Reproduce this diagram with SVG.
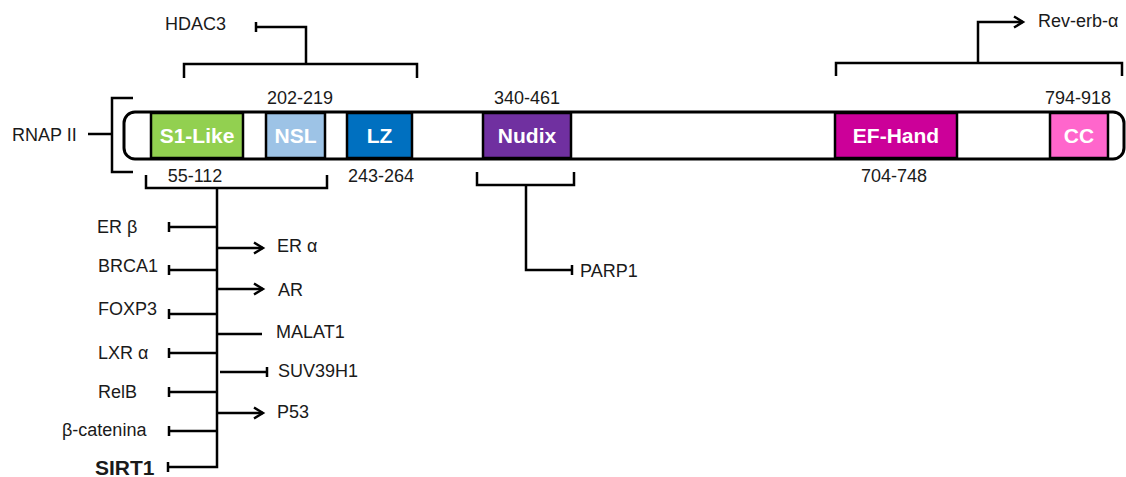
<svg xmlns="http://www.w3.org/2000/svg" width="1126" height="477" viewBox="0 0 1126 477">
<defs>
<style>
.t{font-family:"Liberation Sans",Arial,sans-serif;font-size:18px;fill:#1a1a1a}
.b{font-family:"Liberation Sans",Arial,sans-serif;font-size:21px;font-weight:bold;fill:#fff;text-anchor:middle}
.ln{stroke:#000;stroke-width:2.5;fill:none}
.dom{stroke:#000;stroke-width:2.5}
</style>
<marker id="arr" markerWidth="14" markerHeight="14" refX="11" refY="7" orient="auto" markerUnits="userSpaceOnUse">
<path d="M2,1.5 L11,7 L2,12.5" fill="none" stroke="#000" stroke-width="2.4"/>
</marker>
</defs>
<rect x="0" y="0" width="1126" height="477" fill="#fff"/>

<g id="protein">
<rect x="124" y="112" width="1000" height="47" rx="11" fill="#fff" stroke="#000" stroke-width="3"/>
</g>
<g id="s1like"><rect class="dom" x="151" y="113" width="92" height="45" fill="#92D050"/><text class="b" x="197" y="143">S1-Like</text></g>
<g id="nsl"><rect class="dom" x="266" y="113" width="59" height="45" fill="#9DC3E6"/><text class="b" x="295.5" y="143">NSL</text></g>
<g id="lz"><rect class="dom" x="347" y="113" width="65" height="45" fill="#0070C0"/><text class="b" x="379.5" y="143">LZ</text></g>
<g id="nudix"><rect class="dom" x="483" y="113" width="88" height="45" fill="#7030A0"/><text class="b" x="527" y="143">Nudix</text></g>
<g id="efhand"><rect class="dom" x="835" y="113" width="122" height="45" fill="#CC0099"/><text class="b" x="896" y="143">EF-Hand</text></g>
<g id="cc"><rect class="dom" x="1050" y="113" width="58" height="45" fill="#FF66CC"/><text class="b" x="1079" y="143">CC</text></g>

<g id="ranges">
<text class="t" x="300" y="104" text-anchor="middle">202-219</text>
<text class="t" x="527" y="104" text-anchor="middle">340-461</text>
<text class="t" x="1078" y="104" text-anchor="middle">794-918</text>
<text class="t" x="195" y="182" text-anchor="middle">55-112</text>
<text class="t" x="381" y="182" text-anchor="middle">243-264</text>
<text class="t" x="894" y="182" text-anchor="middle">704-748</text>
</g>

<g id="connectors">
<!-- RNAP II bracket -->
<path class="ln" d="M133,98 H112 V172 H133"/>
<path class="ln" d="M88,134 H112"/>
<!-- HDAC3 -->
<path class="ln" d="M184,78 V64 H417 V78"/>
<path class="ln" d="M306,64 V27 H255"/>
<path class="ln" d="M256,22 V32"/>
<!-- Rev-erb -->
<path class="ln" d="M836,76 V63 H1122 V76"/>
<path class="ln" d="M978,63 V22 H1023" marker-end="url(#arr)"/>
<!-- PARP1 -->
<path class="ln" d="M477,172 V185 H574 V172"/>
<path class="ln" d="M526,185 V270 H572"/>
<path class="ln" d="M572,265 V275"/>
<!-- SIRT1 bracket -->
<path class="ln" d="M146,175 V188 H327 V175"/>
<path class="ln" d="M217,188 V467 H168"/>
<path class="ln" d="M168,462 V472"/>
<!-- left inhibitors -->
<path class="ln" d="M217,227 H169 M169,222 V232"/>
<path class="ln" d="M217,270 H169 M169,265 V275"/>
<path class="ln" d="M217,314 H169 M169,309 V319"/>
<path class="ln" d="M217,353 H169 M169,348 V358"/>
<path class="ln" d="M217,392 H169 M169,387 V397"/>
<path class="ln" d="M217,431 H169 M169,426 V436"/>
<!-- right -->
<path class="ln" d="M217,248 H263" marker-end="url(#arr)"/>
<path class="ln" d="M217,289 H263" marker-end="url(#arr)"/>
<path class="ln" d="M217,334 H262"/>
<path class="ln" d="M220,372 H267 M267,367 V377"/>
<path class="ln" d="M217,413 H263" marker-end="url(#arr)"/>
</g>

<g id="labels">
<text class="t" x="12" y="141">RNAP II</text>
<text class="t" x="165" y="30">HDAC3</text>
<text class="t" x="1038" y="27">Rev-erb-α</text>
<text class="t" x="580" y="277">PARP1</text>
<text class="t" x="97" y="233">ER β</text>
<text class="t" x="98" y="272">BRCA1</text>
<text class="t" x="98" y="315">FOXP3</text>
<text class="t" x="98" y="359">LXR α</text>
<text class="t" x="98" y="398">RelB</text>
<text class="t" x="62" y="436">β-catenina</text>
<text x="95" y="475" style="font-family:'Liberation Sans',Arial,sans-serif;font-size:21px;font-weight:bold;fill:#1a1a1a">SIRT1</text>
<text class="t" x="277" y="252">ER α</text>
<text class="t" x="278" y="296">AR</text>
<text class="t" x="276" y="338">MALAT1</text>
<text class="t" x="278" y="377">SUV39H1</text>
<text class="t" x="277" y="418">P53</text>
</g>
</svg>
